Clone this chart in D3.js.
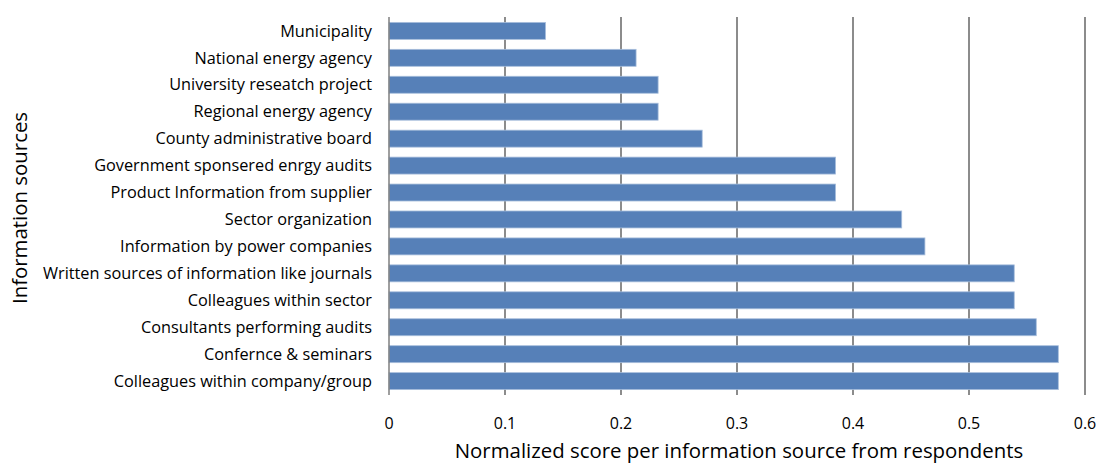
<!DOCTYPE html>
<html>
<head>
<meta charset="utf-8">
<script src="https://cdn.jsdelivr.net/npm/d3@7"></script>
<style>
  body { margin: 0; background: #fff; }
  text { font-family: "Open Sans", Lato, sans-serif; fill: #000; }
</style>
</head>
<body>
<div id="chart"></div>
<script>
const categories = [
  'Municipality',
  'National energy agency',
  'University reseatch project',
  'Regional energy agency',
  'County administrative board',
  'Government sponsered enrgy audits',
  'Product Information from supplier',
  'Sector organization',
  'Information by power companies',
  'Written sources of information like journals',
  'Colleagues within sector',
  'Consultants performing audits',
  'Confernce & seminars',
  'Colleagues within company/group'
];
const scores = [0.135, 0.213, 0.232, 0.232, 0.270, 0.385, 0.385, 0.442, 0.462, 0.539, 0.539, 0.558, 0.577, 0.577];
const xTicks = [0, 0.1, 0.2, 0.3, 0.4, 0.5, 0.6];

const width = 1099, height = 463;
const margin = { top: 17, right: 14, bottom: 68, left: 389 };

const svg = d3.select('#chart')
  .append('svg')
  .attr('width', width)
  .attr('height', height);

const x = d3.scaleLinear().domain([0, 0.6]).range([margin.left, width - margin.right]);
const y = d3.scaleBand().domain(categories)
  .range([margin.top, height - margin.bottom])
  .paddingInner(0.37).paddingOuter(0.2);

// vertical gridlines
svg.append('g')
  .selectAll('line')
  .data(xTicks.slice(1))
  .enter()
  .append('line')
  .attr('x1', d => x(d)).attr('x2', d => x(d))
  .attr('y1', margin.top).attr('y2', height - margin.bottom)
  .attr('stroke', '#8c8c8c')
  .attr('stroke-width', 2);

// bars
svg.append('g')
  .selectAll('rect')
  .data(scores)
  .enter()
  .append('rect')
  .attr('x', x(0))
  .attr('y', (d, i) => y(categories[i]))
  .attr('width', d => x(d) - x(0))
  .attr('height', y.bandwidth())
  .attr('fill', '#5680b8')
  .attr('stroke', '#a8bedc')
  .attr('stroke-width', 0.8);

// left axis line
svg.append('line')
  .attr('x1', x(0)).attr('x2', x(0))
  .attr('y1', margin.top).attr('y2', height - margin.bottom)
  .attr('stroke', '#7f7f7f')
  .attr('stroke-width', 1.5);

// category labels
svg.append('g')
  .selectAll('text')
  .data(categories)
  .enter()
  .append('text')
  .attr('x', x(0) - 17)
  .attr('y', d => y(d) + y.bandwidth() / 2)
  .attr('dy', '0.35em')
  .attr('text-anchor', 'end')
  .style('font-size', '16.3px')
  .text(d => d);

// x tick labels
svg.append('g')
  .selectAll('text')
  .data(xTicks)
  .enter()
  .append('text')
  .attr('x', d => x(d))
  .attr('y', 423)
  .attr('dy', '0.35em')
  .attr('text-anchor', 'middle')
  .style('font-size', '16px')
  .text(d => d3.format('')(d));

// axis titles
svg.append('text')
  .attr('x', 739)
  .attr('y', 458)
  .attr('text-anchor', 'middle')
  .style('font-size', '20.4px')
  .text('Normalized score per information source from respondents');

svg.append('text')
  .attr('transform', 'translate(20,208) rotate(-90)')
  .attr('dy', '0.35em')
  .attr('text-anchor', 'middle')
  .style('font-size', '20.4px')
  .text('Information sources');
</script>
</body>
</html>
